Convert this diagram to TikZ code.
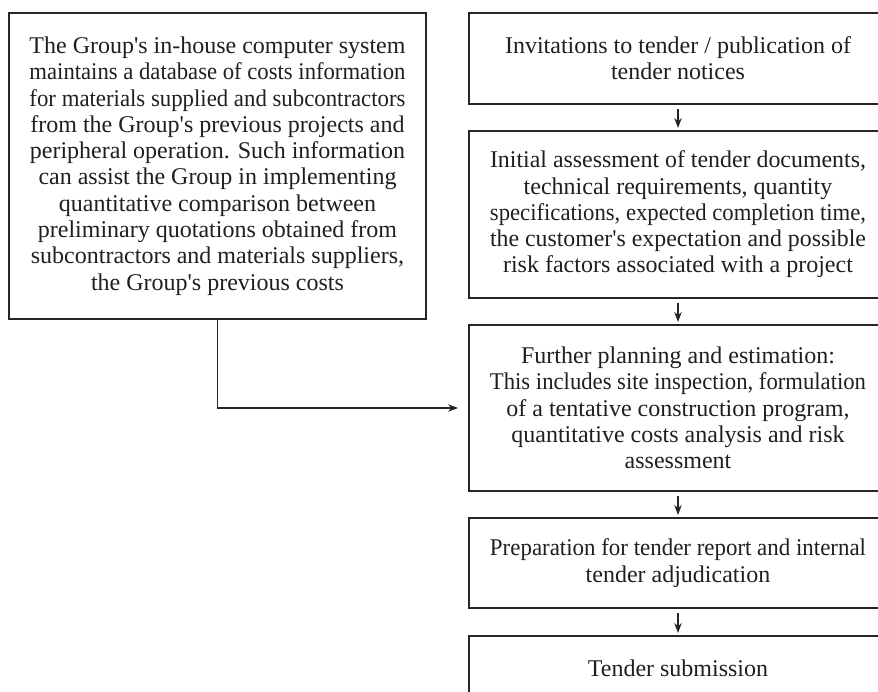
\documentclass[tikz,border=0pt]{standalone}
\usepackage{fontspec}
\usepackage{graphicx}
\setmainfont{Liberation Serif}
\usetikzlibrary{arrows.meta}
\newcommand\ap{\textquotesingle}
\newsavebox\flbox
\newcommand\fl[1]{\sbox\flbox{#1}\ifdim\wd\flbox>376pt\resizebox{376pt}{\height}{\usebox\flbox}\else\usebox\flbox\fi}
\begin{document}
\begin{tikzpicture}[x=1pt,y=-1pt,
  box/.style={draw=black!85,line width=1.1pt,inner sep=0pt,outer sep=0pt,align=center,
    font=\fontsize{24}{26.3}\selectfont,text=black!88},
  rbox/.style={box,minimum width=418pt},
  arr/.style={draw=black!85,line width=1.1pt,-{Stealth[length=10pt,width=7.5pt]}}]
\useasboundingbox (0,0) rectangle (878,692);
\clip (0,0) rectangle (878,692);
\node[box,minimum width=417pt,minimum height=306pt] (lb) at (217.5,166) {\fl{The Group\ap s in-house computer system}\\\fl{maintains a database of costs information}\\\fl{for materials supplied and subcontractors}\\\fl{from the Group\ap s previous projects and}\\\fl{peripheral operation. Such information}\\can assist the Group in implementing\\quantitative comparison between\\preliminary quotations obtained from\\\fl{subcontractors and materials suppliers,}\\the Group\ap s previous costs};
\node[rbox,minimum height=91pt] (b1) at (678,58.5) {Invitations to tender / publication of\\tender notices};
\node[rbox,minimum height=167pt] (b2) at (678,214.5) {\fl{Initial assessment of tender documents,}\\technical requirements, quantity\\\fl{specifications, expected completion time,}\\\fl{the customer\ap s expectation and possible}\\risk factors associated with a project};
\node[rbox,minimum height=166pt] (b3) at (678,408) {Further planning and estimation:\\\fl{This includes site inspection, formulation}\\of a tentative construction program,\\quantitative costs analysis and risk\\assessment};
\node[rbox,minimum height=90pt] (b4) at (678,563) {\fl{Preparation for tender report and internal}\\tender adjudication};
\node[rbox,minimum height=64pt] (b5) at (678,668) {Tender submission};
\draw[arr,shorten <=5pt,shorten >=3pt] (b1) -- (b2);
\draw[arr,shorten <=5pt,shorten >=3pt] (b2) -- (b3);
\draw[arr,shorten <=5pt,shorten >=3pt] (b3) -- (b4);
\draw[arr,shorten <=5pt,shorten >=3pt] (b4) -- (b5);
\draw[arr,shorten >=11pt] (lb.south) |- (b3.west);
\end{tikzpicture}
\end{document}
